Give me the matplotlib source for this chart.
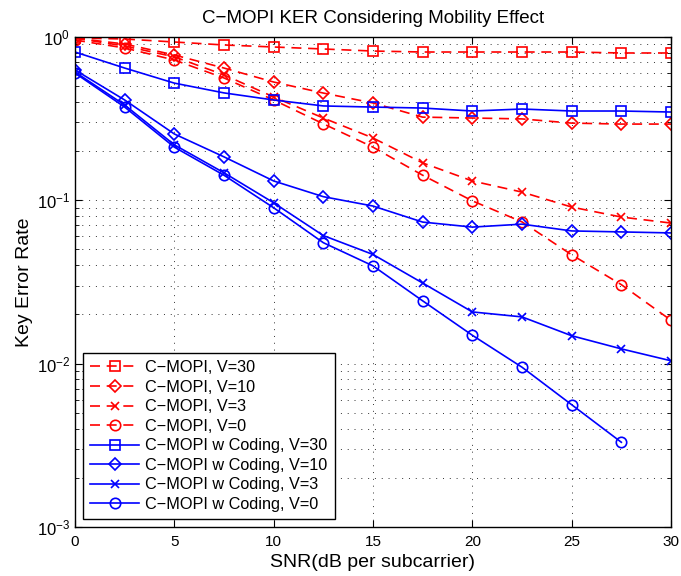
import matplotlib
matplotlib.use("Agg")
import matplotlib.pyplot as plt
from matplotlib.ticker import LogLocator, NullFormatter

plt.rcParams['font.family'] = ['Liberation Sans', 'DejaVu Sans']
plt.rcParams['mathtext.fontset'] = 'custom'
plt.rcParams['mathtext.rm'] = 'Liberation Sans'
plt.rcParams['mathtext.it'] = 'Liberation Sans'
plt.rcParams['mathtext.default'] = 'regular'

snr = [0, 2.5, 5, 7.5, 10, 12.5, 15, 17.5, 20, 22.5, 25, 27.5, 30]

ker_v30 = [0.982, 0.968, 0.928, 0.89, 0.865, 0.841, 0.817, 0.806, 0.806, 0.806, 0.806, 0.795, 0.795]
ker_v10 = [0.98, 0.902, 0.773, 0.643, 0.528, 0.452, 0.393, 0.322, 0.318, 0.314, 0.296, 0.292, 0.292]
ker_v3 = [0.98, 0.877, 0.753, 0.584, 0.428, 0.318, 0.24, 0.169, 0.131, 0.112, 0.0907, 0.0788, 0.0724]
ker_v0 = [0.954, 0.853, 0.72, 0.559, 0.41, 0.293, 0.211, 0.142, 0.099, 0.0736, 0.0463, 0.0304, 0.0184]

cod_v30 = [0.806, 0.643, 0.52, 0.453, 0.41, 0.377, 0.371, 0.366, 0.351, 0.361, 0.351, 0.351, 0.346]
cod_v10 = [0.626, 0.41, 0.254, 0.184, 0.131, 0.105, 0.092, 0.0734, 0.0684, 0.0713, 0.0648, 0.0639, 0.063]
cod_v3 = [0.608, 0.382, 0.218, 0.147, 0.0963, 0.0607, 0.0465, 0.0311, 0.0207, 0.0193, 0.0148, 0.0123, 0.0104]
cod_v0 = [0.599, 0.371, 0.211, 0.142, 0.0898, 0.0549, 0.0396, 0.0242, 0.0149, 0.0095, 0.0056, 0.0033]

labels = ["C\u2212MOPI, V=30", "C\u2212MOPI, V=10", "C\u2212MOPI, V=3", "C\u2212MOPI, V=0",
          "C\u2212MOPI w Coding, V=30", "C\u2212MOPI w Coding, V=10",
          "C\u2212MOPI w Coding, V=3", "C\u2212MOPI w Coding, V=0"]

fig = plt.figure(figsize=(6.81, 5.76), dpi=100)
ax = fig.add_axes([75/681, 1-527/576, 596/681, (527-36.7)/576])

red_series = [ker_v30, ker_v10, ker_v3, ker_v0]
blue_series = [cod_v30, cod_v10, cod_v3, cod_v0]
markers = ['s', 'D', 'x', 'o']
msizes = [7, 6.5, 6, 7.5]

for i, (ys, m) in enumerate(zip(red_series, markers)):
    ax.plot(snr[:len(ys)], ys, color='red', linestyle=(0, (6, 4)), linewidth=1.2,
            marker=m, markersize=msizes[i], markerfacecolor='none',
            markeredgewidth=1.2, label=labels[i])
for i, (ys, m) in enumerate(zip(blue_series, markers)):
    ax.plot(snr[:len(ys)], ys, color='blue', linestyle='-', linewidth=1.2,
            marker=m, markersize=msizes[i], markerfacecolor='none',
            markeredgewidth=1.2, label=labels[4 + i])

ax.set_yscale('log')
ax.set_xlim(0, 30)
ax.set_ylim(1e-3, 1)
ax.set_xticks([0, 5, 10, 15, 20, 25, 30])
ax.yaxis.set_major_locator(LogLocator(base=10, numticks=10))
ax.yaxis.set_minor_locator(LogLocator(base=10, subs=range(2, 10), numticks=10))
ax.yaxis.set_minor_formatter(NullFormatter())

ax.tick_params(axis='both', which='both', direction='in', top=True, right=True, labelsize=11)
ax.tick_params(axis='both', which='major', length=5, width=0.8)
ax.tick_params(axis='both', which='minor', length=3, width=0.6)
ax.tick_params(axis='x', which='major', pad=5.5)
ax.tick_params(axis='y', which='major', pad=3.5, labelsize=12)

ax.grid(True, which='major', axis='both', linestyle=(0, (1, 6)), color='#333333', linewidth=0.7)
ax.grid(True, which='minor', axis='y', linestyle=(0, (1, 6)), color='#333333', linewidth=0.7)

for sp in ax.spines.values():
    sp.set_linewidth(1.0)

ax.set_title("C\u2212MOPI KER Considering Mobility Effect", fontsize=13.5, pad=10)
ax.set_xlabel("SNR(dB per subcarrier)", fontsize=14, labelpad=4)
ax.set_ylabel("Key Error Rate", fontsize=14, labelpad=3)

leg = ax.legend(loc='lower left', bbox_to_anchor=(0.0134, 0.0157), fontsize=11.7,
                frameon=True, fancybox=False, edgecolor='black', framealpha=1,
                handlelength=3.0, handletextpad=0.37, labelspacing=0.28,
                borderpad=0.45, borderaxespad=0)
leg.get_frame().set_linewidth(1.0)

fig.savefig("out.png", dpi=100)
